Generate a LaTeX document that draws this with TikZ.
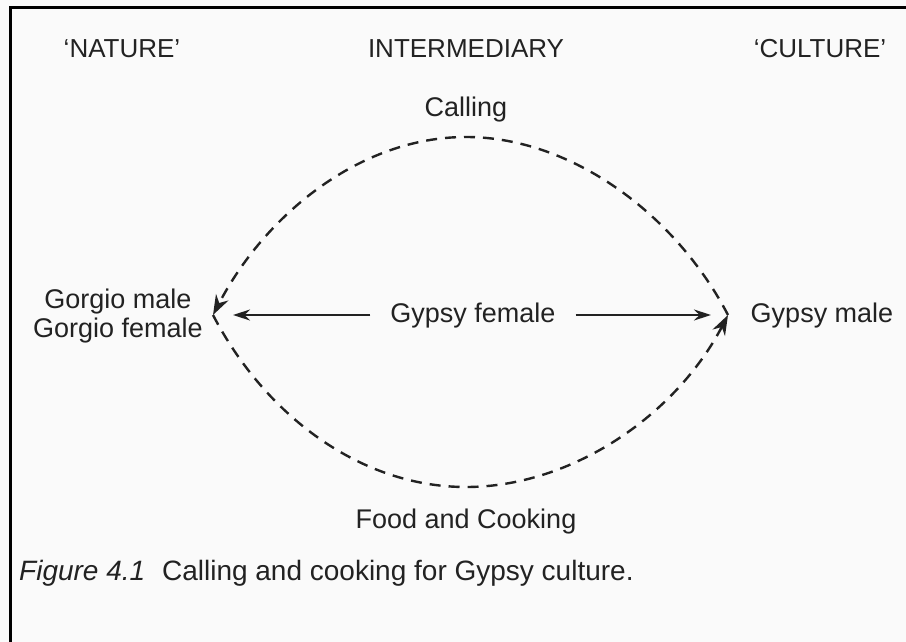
\documentclass[tikz,border=0pt]{standalone}
\usepackage{fontspec}
\setmainfont{Liberation Sans}
\usetikzlibrary{arrows.meta}
\definecolor{ink}{HTML}{222222}
\definecolor{paper}{HTML}{FAFAFA}
\tikzset{
  label/.style={font=\fontsize{27}{31}\selectfont, text=ink, inner sep=0pt, anchor=base},
  heading/.style={label, font=\fontsize{26}{30}\selectfont},
  cycle/.style={ink, line width=2.4pt, dash pattern=on 11pt off 8pt},
  link/.style={ink, line width=1.5pt, -{Stealth[length=17pt,width=11pt]}},
  tip/.style={-{Stealth[length=20pt,width=14pt]}}
}
\begin{document}
\begin{tikzpicture}[x=1pt,y=-1pt]
  % page and frame
  \fill[paper] (0,0) rectangle (906,642);
  \useasboundingbox (0,0) rectangle (906,642);
  \draw[black, line width=3pt] (906,8) -- (10,8) -- (10,642);

  % column headings
  \node[heading] (nature) at (122,58) {`NATURE'};
  \node[heading] (inter) at (466,58) {INTERMEDIARY};
  \node[heading] (culture) at (820,58) {`CULTURE'};

  % labels on the cycle
  \node[label] (calling) at (466,117) {Calling};
  \node[label] (food) at (466,528) {Food and Cooking};

  % side groups
  \node[label, align=center, anchor=center] (gorgio) at (118,316)
    {Gorgio male\\[-2pt]Gorgio female};
  \node[label] (gfemale) at (473,322) {Gypsy female};
  \node[label] (gmale) at (822,322) {Gypsy male};

  % meeting points of the two paths
  \coordinate (lv) at (213,315);
  \coordinate (rv) at (728,315);
  \coordinate (top) at (466,137);
  \coordinate (bot) at (466,487);

  % upper path: culture back to nature
  \draw[cycle, tip] (rv) .. controls (676,215) and (572,137) .. (top)
                         .. controls (360,137) and (265,215) .. (lv);
  % lower path: nature to culture
  \draw[cycle, tip] (lv) .. controls (265,415) and (360,487) .. (bot)
                         .. controls (572,487) and (676,415) .. (rv);

  % gypsy female pointing both ways
  \coordinate (gl) at ([xshift=-20pt]gfemale.west |- lv);
  \coordinate (gr) at ([xshift=20pt]gfemale.east |- rv);
  \draw[link] (gl) -- ([xshift=20pt]lv);
  \draw[link] (gr) -- ([xshift=-17pt]rv);

  % caption
  \node[label, anchor=base west, font=\fontsize{28}{32}\selectfont] (caption) at (19,580)
    {\textit{Figure 4.1}\hspace{0.6em}Calling and cooking for Gypsy culture.};
\end{tikzpicture}
\end{document}
